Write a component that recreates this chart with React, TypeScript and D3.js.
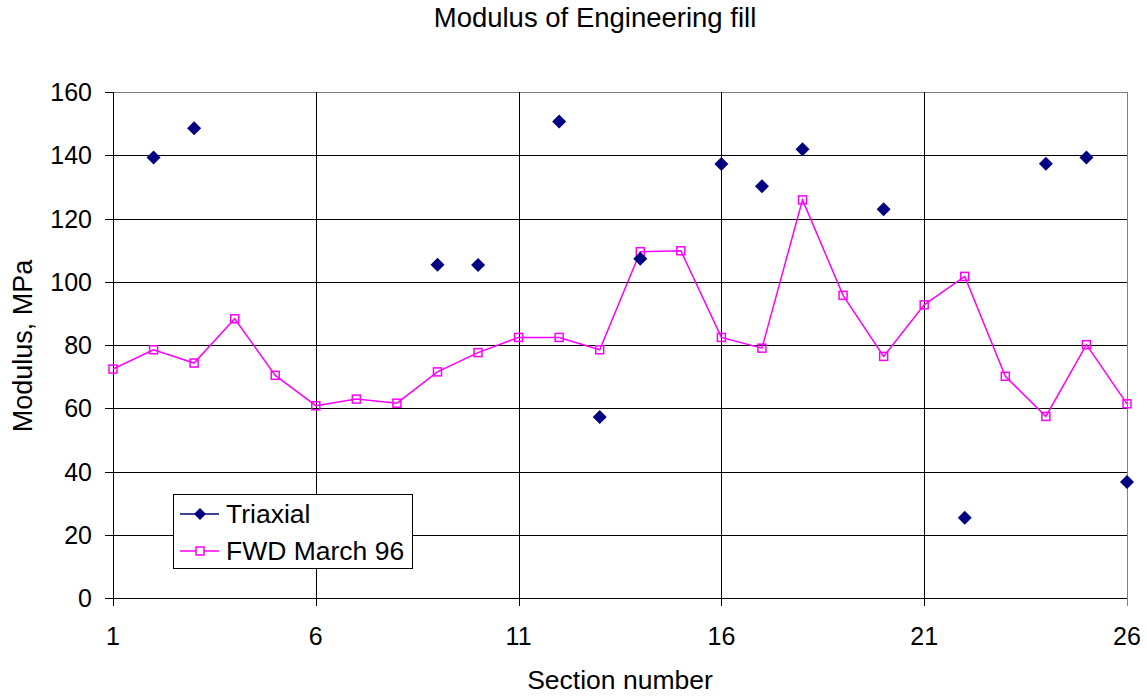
import React from "react";
import * as d3 from "d3";

const sections: number[] = Array.from({ length: 26 }, (_, i) => i + 1);

const triaxialX: number[] = [2, 3, 9, 10, 12, 13, 14, 16, 17, 18, 20, 22, 24, 25, 26];
const triaxialY: number[] = [139.3, 148.5, 105.4, 105.3, 150.7, 57.2, 107.3, 137.2, 130.2, 141.9, 122.9, 25.4, 137.3, 139.3, 36.7];

const fwdY: number[] = [
  72.4, 78.5, 74.3, 88.3, 70.4, 60.8, 62.9, 61.6, 71.5, 77.6,
  82.4, 82.4, 78.5, 109.5, 109.8, 82.4, 79.0, 125.9, 95.7, 76.4,
  92.7, 101.7, 70.1, 57.4, 80.1, 61.4,
];

const xTicks: number[] = [1, 6, 11, 16, 21, 26];
const yTicks: number[] = [0, 20, 40, 60, 80, 100, 120, 140, 160];

const title = "Modulus of Engineering fill";
const xTitle = "Section number";
const yTitle = "Modulus, MPa";
const seriesNames = ["Triaxial", "FWD March 96"];

const W = 1147;
const H = 698;
const L = 113;
const R = 1127;
const T = 92;
const B = 598;
const FONT = "'Liberation Sans', Arial, Helvetica, sans-serif";
const NAVY = "#000080";
const MAG = "#FF00FF";

export default function App() {
  const x = d3.scaleLinear().domain([1, 26]).range([L, R]);
  const y = d3.scaleLinear().domain([0, 160]).range([B, T]);

  const line = d3
    .line<number>()
    .x((_, i) => x(sections[i]))
    .y((d) => y(d));

  const diamond = (cx: number, cy: number, r: number) =>
    `M${cx},${cy - r}L${cx + r},${cy}L${cx},${cy + r}L${cx - r},${cy}Z`;

  const legX = 173;
  const legY = 494;
  const legW = 239;
  const legH = 74;

  return (
    <svg
      width={W}
      height={H}
      style={{ position: "absolute", left: 0, top: 0, background: "#fff" }}
      fontFamily={FONT}
    >
      <rect x={0} y={0} width={W} height={H} fill="#fff" />
      {yTicks.map((t) => (
        <line
          key={"hg" + t}
          x1={L}
          x2={R}
          y1={Math.round(y(t)) + 0.5}
          y2={Math.round(y(t)) + 0.5}
          stroke={t === 160 ? "#808080" : "#000"}
          strokeWidth={1}
        />
      ))}
      {xTicks.map((t) => (
        <line
          key={"vg" + t}
          x1={Math.round(x(t)) + 0.5}
          x2={Math.round(x(t)) + 0.5}
          y1={T}
          y2={B + 8}
          stroke={t === 26 ? "#808080" : "#000"}
          strokeWidth={1}
        />
      ))}
      <line x1={L + 0.5} x2={L + 0.5} y1={T} y2={B + 8} stroke="#000" />
      {yTicks.map((t) => (
        <g key={"yt" + t}>
          <line
            x1={L - 8}
            x2={L}
            y1={Math.round(y(t)) + 0.5}
            y2={Math.round(y(t)) + 0.5}
            stroke="#000"
          />
          <text
            x={92}
            y={y(t)}
            textAnchor="end"
            dominantBaseline="central"
            fontSize={25}
            fill="#000"
          >
            {t}
          </text>
        </g>
      ))}
      {xTicks.map((t) => (
        <text
          key={"xt" + t}
          x={x(t)}
          y={645}
          textAnchor="middle"
          fontSize={25}
          fill="#000"
        >
          {t}
        </text>
      ))}
      <path d={line(fwdY) || ""} fill="none" stroke={MAG} strokeWidth={1.5} />
      {fwdY.map((v, i) => (
        <rect
          key={"fm" + i}
          x={x(sections[i]) - 4}
          y={y(v) - 4}
          width={8}
          height={8}
          fill="none"
          stroke={MAG}
          strokeWidth={1.5}
        />
      ))}
      {triaxialX.map((s, i) => (
        <path key={"tm" + i} d={diamond(x(s), y(triaxialY[i]), 7)} fill={NAVY} />
      ))}
      <rect
        x={legX + 0.5}
        y={legY + 0.5}
        width={legW}
        height={legH}
        fill="#fff"
        stroke="#000"
        strokeWidth={1}
      />
      <line x1={180} x2={219} y1={514} y2={514} stroke={NAVY} strokeWidth={1.5} />
      <path d={diamond(200, 514, 6)} fill={NAVY} />
      <text x={226} y={514} dominantBaseline="central" fontSize={26.5} fill="#000">
        {seriesNames[0]}
      </text>
      <line x1={180} x2={219} y1={551} y2={551} stroke={MAG} strokeWidth={1.5} />
      <rect x={196} y={547} width={8} height={8} fill="#fff" stroke={MAG} strokeWidth={1.5} />
      <text x={226} y={551} dominantBaseline="central" fontSize={26.5} fill="#000">
        {seriesNames[1]}
      </text>
      <text x={595} y={27} textAnchor="middle" fontSize={27.5} fill="#000">
        {title}
      </text>
      <text x={620} y={689} textAnchor="middle" fontSize={26.5} fill="#000">
        {xTitle}
      </text>
      <text
        transform={`translate(32,346) rotate(-90)`}
        textAnchor="middle"
        fontSize={27}
        fill="#000"
      >
        {yTitle}
      </text>
    </svg>
  );
}
